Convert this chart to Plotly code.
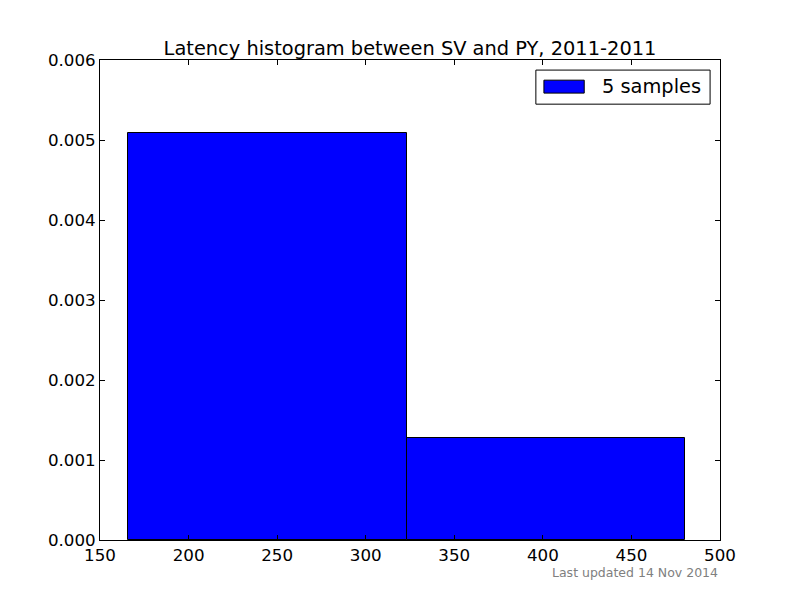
import plotly.graph_objects as go

# Data
bin_edges = [165.8, 323.1, 480.4]
densities = [0.005088, 0.001275]
series_name = "5 samples"
title_text = "Latency histogram between SV and PY, 2011-2011"
footnote = "Last updated 14 Nov 2014"
x_ticks = [150, 200, 250, 300, 350, 400, 450, 500]
y_ticks = [0.000, 0.001, 0.002, 0.003, 0.004, 0.005, 0.006]

centers = [(a + b) / 2 for a, b in zip(bin_edges[:-1], bin_edges[1:])]
widths = [b - a for a, b in zip(bin_edges[:-1], bin_edges[1:])]

font_family = "DejaVu Sans"
bar_color = "#0000ff"

fig = go.Figure()
fig.add_trace(go.Bar(
    x=centers, y=densities, width=widths, name=series_name,
    marker=dict(color=bar_color, line=dict(color="#000000", width=1)),
    showlegend=False,
))

axis_common = dict(
    showgrid=False, zeroline=False, showline=True, linecolor="black",
    linewidth=1, mirror="ticks", ticks="inside", ticklen=5, tickcolor="black",
    tickfont=dict(family=font_family, size=16.7, color="black"),
)

fig.update_layout(
    width=800, height=600,
    margin=dict(l=92, r=88, t=52, b=68),
    paper_bgcolor="white", plot_bgcolor="white",
    title=dict(text=title_text, x=0.5, xanchor="center", xref="paper",
               y=1.0, yref="paper", yanchor="bottom", pad=dict(b=5),
               font=dict(family=font_family, size=19.4, color="black")),
    xaxis=dict(range=[150, 500], tickvals=x_ticks, **axis_common),
    yaxis=dict(range=[0, 0.006], tickvals=y_ticks, tickformat=".3f", **axis_common),
    showlegend=False,
    bargap=0,
)

# Legend drawn matplotlib-style (wide patch) in axes-fraction coordinates
fig.add_shape(type="rect", xref="paper", yref="paper",
              x0=0.703, x1=0.984, y0=0.908, y1=0.979,
              line=dict(color="black", width=1), fillcolor="white")
fig.add_shape(type="rect", xref="paper", yref="paper",
              x0=0.716, x1=0.781, y0=0.931, y1=0.958,
              line=dict(color="black", width=1), fillcolor=bar_color)
fig.add_annotation(text=series_name, xref="paper", yref="paper", x=0.806, y=0.944,
                   xanchor="left", yanchor="middle", showarrow=False,
                   font=dict(family=font_family, size=19.4, color="black"))

fig.add_annotation(text=footnote, xref="paper", yref="paper", x=1, y=-0.0675,
                   xanchor="right", yanchor="middle", showarrow=False,
                   font=dict(family=font_family, size=12.5, color="#808080"))

fig.write_html("out.html")
